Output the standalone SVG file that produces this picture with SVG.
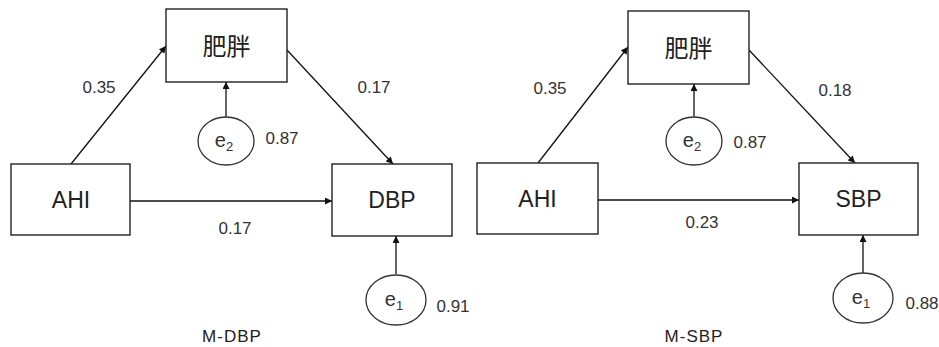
<svg xmlns="http://www.w3.org/2000/svg" width="939" height="347" viewBox="0 0 939 347">
  <style>
    .box { fill: #fff; stroke: #222; stroke-width: 1.4; }
    .err { fill: #fff; stroke: #333; stroke-width: 1.3; }
    .edge { stroke: #111; stroke-width: 1.3; fill: none; marker-end: url(#arrow); }
    .name { font-family: "Liberation Sans", "Noto Sans CJK SC", sans-serif; font-size: 23px; fill: #222; text-anchor: middle; }
    .cjk { font-family: "Noto Sans CJK SC", sans-serif; font-size: 24px; fill: #222; text-anchor: middle; }
    .coef { font-family: "Liberation Sans", sans-serif; font-size: 17px; fill: #333; text-anchor: middle; }
    .e { font-family: "Liberation Sans", sans-serif; font-size: 20px; fill: #333; text-anchor: middle; }
    .title { font-family: "Liberation Sans", sans-serif; font-size: 17px; fill: #222; text-anchor: middle; letter-spacing: 1px; }
  </style>
  <defs>
    <marker id="arrow" viewBox="0 0 10 10" refX="10" refY="5" markerWidth="8" markerHeight="7" markerUnits="userSpaceOnUse" orient="auto">
      <path d="M0,0 L10,5 L0,10 z" fill="#111"/>
    </marker>
  </defs>

  <!-- connectors -->
  <g id="connectors">
    <line class="edge" x1="71" y1="164" x2="166" y2="46"/>
    <line class="edge" x1="287" y1="50" x2="393" y2="164"/>
    <line class="edge" x1="130" y1="201" x2="332" y2="201"/>
    <line class="edge" x1="226" y1="117" x2="226" y2="82"/>
    <line class="edge" x1="396" y1="274" x2="396" y2="236"/>

    <line class="edge" x1="538" y1="163" x2="628" y2="47"/>
    <line class="edge" x1="749" y1="50" x2="855" y2="163"/>
    <line class="edge" x1="598" y1="200" x2="799" y2="200"/>
    <line class="edge" x1="694" y1="117" x2="694" y2="84"/>
    <line class="edge" x1="863" y1="273" x2="863" y2="235"/>
  </g>

  <!-- left model: M-DBP -->
  <g id="obesity-dbp">
    <rect class="box" x="166" y="9" width="121" height="73"/>
    <text class="cjk" x="226.5" y="55">肥胖</text>
  </g>
  <g id="ahi-dbp">
    <rect class="box" x="11" y="164" width="119" height="71"/>
    <text class="name" x="71" y="208">AHI</text>
  </g>
  <g id="dbp">
    <rect class="box" x="332" y="164" width="120" height="72"/>
    <text class="name" x="392" y="208">DBP</text>
  </g>
  <g id="e2-dbp">
    <ellipse class="err" cx="226" cy="141" rx="28" ry="24"/>
    <text class="e" x="224" y="147">e<tspan font-size="13" dy="4">2</tspan></text>
  </g>
  <g id="e1-dbp">
    <ellipse class="err" cx="396" cy="300" rx="30" ry="25"/>
    <text class="e" x="394" y="306">e<tspan font-size="13" dy="4">1</tspan></text>
  </g>
  <g id="labels-dbp">
    <text class="coef" x="99" y="93">0.35</text>
    <text class="coef" x="374" y="93">0.17</text>
    <text class="coef" x="282" y="144">0.87</text>
    <text class="coef" x="235" y="234">0.17</text>
    <text class="coef" x="453" y="312">0.91</text>
    <text class="title" x="232" y="342">M-DBP</text>
  </g>

  <!-- right model: M-SBP -->
  <g id="obesity-sbp">
    <rect class="box" x="628" y="11" width="121" height="73"/>
    <text class="cjk" x="688.5" y="57">肥胖</text>
  </g>
  <g id="ahi-sbp">
    <rect class="box" x="477" y="163" width="121" height="71"/>
    <text class="name" x="537.5" y="207">AHI</text>
  </g>
  <g id="sbp">
    <rect class="box" x="799" y="163" width="119" height="72"/>
    <text class="name" x="858.5" y="207">SBP</text>
  </g>
  <g id="e2-sbp">
    <ellipse class="err" cx="694" cy="141" rx="28" ry="24"/>
    <text class="e" x="692" y="147">e<tspan font-size="13" dy="4">2</tspan></text>
  </g>
  <g id="e1-sbp">
    <ellipse class="err" cx="863" cy="298" rx="30" ry="25"/>
    <text class="e" x="861" y="304">e<tspan font-size="13" dy="4">1</tspan></text>
  </g>
  <g id="labels-sbp">
    <text class="coef" x="550" y="94">0.35</text>
    <text class="coef" x="835" y="96">0.18</text>
    <text class="coef" x="750" y="148">0.87</text>
    <text class="coef" x="702" y="228">0.23</text>
    <text class="coef" x="922" y="309">0.88</text>
    <text class="title" x="694" y="342">M-SBP</text>
  </g>
</svg>
